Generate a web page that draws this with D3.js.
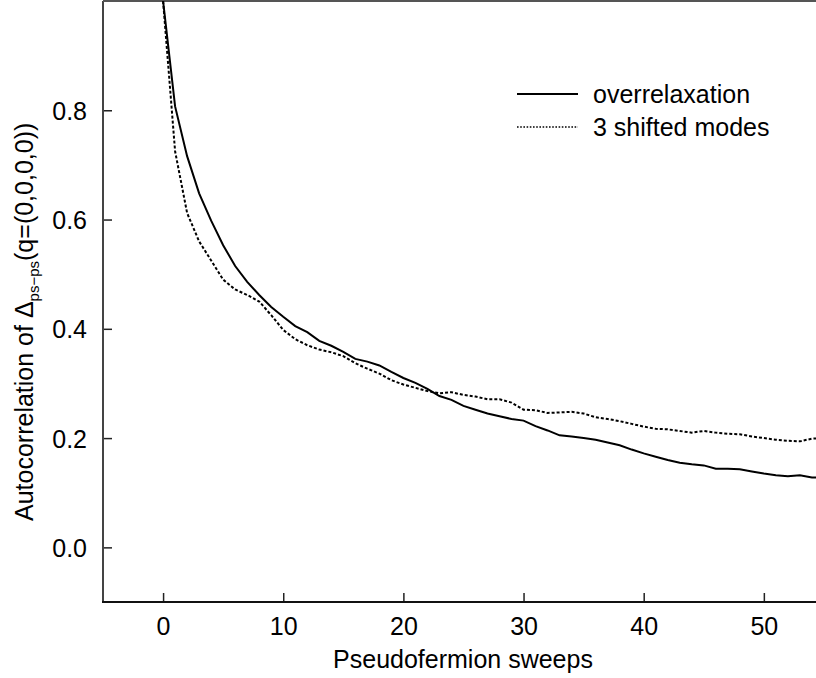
<!DOCTYPE html>
<html>
<head>
<meta charset="utf-8">
<script src="https://cdn.jsdelivr.net/npm/d3@7"></script>
<style>
  html, body { margin: 0; padding: 0; background: #fff; }
  svg { display: block; }
  text { font-family: "Liberation Sans", Arial, Helvetica, sans-serif; fill: #000; }
</style>
</head>
<body>
<svg id="chart" width="816" height="678"></svg>
<script>
// Monte Carlo time (pseudofermion sweeps)
const sweeps = d3.range(0, 56);

// Autocorrelation, overrelaxation update
const overrelaxation = [
  1.000, 0.807, 0.716, 0.648, 0.598, 0.553, 0.515, 0.486, 0.462, 0.440,
  0.422, 0.405, 0.394, 0.378, 0.369, 0.358, 0.345, 0.340, 0.333, 0.321,
  0.310, 0.301, 0.290, 0.277, 0.270, 0.259, 0.252, 0.245, 0.240, 0.235,
  0.232, 0.222, 0.214, 0.205, 0.203, 0.200, 0.197, 0.192, 0.187, 0.179,
  0.172, 0.166, 0.160, 0.155, 0.152, 0.150, 0.144, 0.144, 0.143, 0.139,
  0.135, 0.132, 0.130, 0.132, 0.128, 0.127
];

// Autocorrelation, 3 shifted modes
const shiftedModes = [
  1.000, 0.725, 0.612, 0.560, 0.525, 0.490, 0.472, 0.462, 0.450, 0.425,
  0.398, 0.381, 0.370, 0.362, 0.357, 0.350, 0.337, 0.327, 0.318, 0.306,
  0.298, 0.292, 0.286, 0.282, 0.284, 0.279, 0.276, 0.271, 0.271, 0.265,
  0.252, 0.251, 0.246, 0.247, 0.248, 0.245, 0.238, 0.235, 0.231, 0.226,
  0.221, 0.217, 0.216, 0.213, 0.210, 0.213, 0.210, 0.208, 0.207, 0.203,
  0.200, 0.197, 0.195, 0.194, 0.199, 0.200
];

const xTicks = [0, 10, 20, 30, 40, 50];
const yTicks = [0.0, 0.2, 0.4, 0.6, 0.8];
const seriesNames = ["overrelaxation", "3 shifted modes"];

const svg = d3.select("#chart");
const plotL = 103, plotT = 1, plotB = 602, plotR = 816;

const x = d3.scaleLinear().domain([-5, 54.34]).range([plotL, plotR]);
const y = d3.scaleLinear().domain([-0.1, 1.0]).range([plotB, plotT]);

svg.append("defs").append("clipPath").attr("id", "plot")
  .append("rect").attr("x", plotL).attr("y", plotT)
  .attr("width", plotR - plotL).attr("height", plotB - plotT);

// axes with inward ticks
const xAxis = svg.append("g").attr("transform", `translate(0,${plotB})`)
  .call(d3.axisBottom(x).tickValues(xTicks).tickSize(-9).tickPadding(15)
    .tickFormat(d3.format("d")));
const yAxis = svg.append("g").attr("transform", `translate(${plotL},0)`)
  .call(d3.axisLeft(y).tickValues(yTicks).tickSize(-9).tickPadding(16)
    .tickFormat(d3.format(".1f")));

[xAxis, yAxis].forEach(g => {
  g.select(".domain").remove();
  g.selectAll(".tick line").attr("stroke", "#222").attr("stroke-width", 1.5);
  g.selectAll(".tick text").attr("font-size", 25).attr("fill", "#000");
});
yAxis.selectAll(".tick text").attr("dy", "0.36em");

// frame: left, top and bottom edges
svg.append("line").attr("x1", plotL).attr("x2", plotL).attr("y1", plotT).attr("y2", plotB)
  .attr("stroke", "#444").attr("stroke-width", 2);
svg.append("line").attr("x1", plotL).attr("x2", plotR).attr("y1", plotT).attr("y2", plotT)
  .attr("stroke", "#555").attr("stroke-width", 2);
svg.append("line").attr("x1", plotL - 1).attr("x2", plotR).attr("y1", plotB).attr("y2", plotB)
  .attr("stroke", "#111").attr("stroke-width", 2);

// curves
const line = d3.line().x((d, i) => x(sweeps[i])).y(d => y(d));
const curves = svg.append("g").attr("clip-path", "url(#plot)");
curves.append("path").datum(overrelaxation).attr("d", line)
  .attr("fill", "none").attr("stroke", "#000").attr("stroke-width", 2);
curves.append("path").datum(shiftedModes).attr("d", line)
  .attr("fill", "none").attr("stroke", "#000").attr("stroke-width", 2)
  .attr("stroke-dasharray", "3,2");

// legend
const legend = svg.append("g");
const legendRows = [{ name: seriesNames[0], dash: null, yy: 94 },
                    { name: seriesNames[1], dash: "1.6,1.6", yy: 127 }];
legendRows.forEach(r => {
  legend.append("line").attr("x1", 517).attr("x2", 578).attr("y1", r.yy).attr("y2", r.yy)
    .attr("stroke", "#000").attr("stroke-width", r.dash ? 1.5 : 2)
    .attr("stroke-dasharray", r.dash);
  legend.append("text").attr("x", 593).attr("y", r.yy).attr("dy", "0.36em")
    .attr("font-size", 25).text(r.name);
});

// axis titles
svg.append("text").attr("x", 463).attr("y", 668).attr("text-anchor", "middle")
  .attr("font-size", 25).text("Pseudofermion sweeps");

const yTitle = svg.append("text")
  .attr("transform", "translate(33,521) rotate(-90)")
  .attr("font-size", 25);
yTitle.append("tspan").text("Autocorrelation of \u0394");
yTitle.append("tspan").attr("font-size", 15).attr("dy", 6).text("ps\u2212ps");
yTitle.append("tspan").attr("dy", -6).text("(q=(0,0,0,0))");
</script>
</body>
</html>
